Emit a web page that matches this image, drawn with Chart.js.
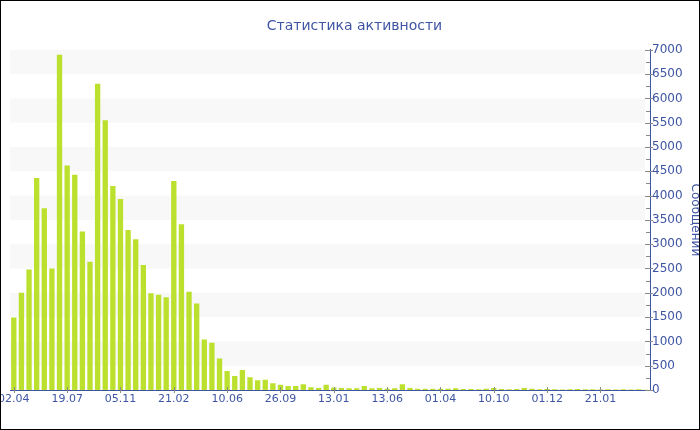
<!DOCTYPE html>
<html>
<head>
<meta charset="utf-8">
<script src="https://cdn.jsdelivr.net/npm/chart.js@4"></script>
<style>
  body { margin: 0; background: #fff; }
  #wrap { width: 700px; height: 430px; border: 1px solid #000; box-sizing: border-box; }
</style>
</head>
<body>
<div id="wrap"><canvas id="myChart" width="698" height="428"></canvas></div>
<script>
const tickLabels = ["02.04", "19.07", "05.11", "21.02", "10.06", "26.09", "13.01", "13.06", "01.04", "10.10", "01.12", "21.01"];

const messages = [
  1490, 2000, 2480, 4360, 3740, 2500, 6900, 4620, 4430, 3260,
  2640, 6300, 5550, 4200, 3930, 3290, 3100, 2570, 1990, 1960,
  1910, 4300, 3410, 2020, 1780, 1040, 970, 650, 390, 290,
  410, 260, 200, 210, 140, 110, 80, 80, 120, 55,
  40, 110, 50, 40, 35, 35, 80, 35, 40, 25,
  35, 120, 40, 25, 25, 25, 25, 25, 35, 20,
  20, 15, 25, 40, 20, 15, 20, 40, 25, 15,
  20, 15, 10, 15, 20, 15, 15, 10, 15, 10,
  15, 10, 15, 5,
];

const labelEvery = 7;
const blue = "#3e55a3";

// one category per bar, only every 7th one has a date
const labels = messages.map((v, i) => (i % labelEvery === 0 ? tickLabels[i / labelEvery] || "" : ""));

// grey bands behind bars
const bands = {
  id: "bands",
  beforeDatasetsDraw(chart) {
    const { ctx, chartArea: { left, right }, scales: { y } } = chart;
    ctx.save();
    ctx.fillStyle = "#f8f8f8";
    for (let v = 500; v < 7000; v += 1000) {
      const top = y.getPixelForValue(v + 500);
      const bottom = y.getPixelForValue(v);
      ctx.fillRect(left, top, right - left - 5, bottom - top);
    }
    ctx.restore();
  },
};

// small tick marks on both axes
const tickMarks = {
  id: "tickMarks",
  afterDraw(chart) {
    const { ctx, chartArea: { right, bottom }, scales: { x, y } } = chart;
    ctx.save();
    ctx.strokeStyle = "#8a8a8a";
    ctx.lineWidth = 1;
    ctx.beginPath();
    for (let v = 0; v <= 7000; v += 250) {
      const py = Math.round(y.getPixelForValue(v)) + 0.5;
      const major = v % 500 === 0;
      ctx.moveTo(right - (major ? 5 : 4), py);
      ctx.lineTo(right + (major ? 3 : 0), py);
    }
    for (let i = 0; i < messages.length; i += labelEvery) {
      const px = Math.round(x.getPixelForValue(i)) + 0.5;
      ctx.moveTo(px, bottom - 3);
      ctx.lineTo(px, bottom + 3);
    }
    ctx.stroke();
    ctx.restore();
  },
};

const data = {
  labels: labels,
  datasets: [
    {
      label: "Сообщений",
      data: messages,
      backgroundColor: "#bce02e",
      borderWidth: 0,
      barPercentage: 0.7,
      categoryPercentage: 1,
    },
  ],
};

const config = {
  type: "bar",
  data: data,
  options: {
    responsive: false,
    animation: false,
    layout: {
      padding: { left: 9, right: 0, top: 0, bottom: 0 },
    },
    plugins: {
      legend: { display: false },
      tooltip: { enabled: false },
      title: {
        display: true,
        text: "Статистика активности",
        color: blue,
        font: { family: "DejaVu Sans", size: 14, weight: "normal" },
        padding: { top: 17, bottom: 15 },
      },
    },
    scales: {
      x: {
        grid: { display: false, drawTicks: false },
        border: { display: true, color: blue, width: 1 },
        ticks: {
          color: blue,
          font: { family: "DejaVu Sans", size: 11 },
          autoSkip: false,
          maxRotation: 0,
          padding: 3,
        },
        afterFit(scale) {
          scale.height = 39;
          scale.paddingLeft = 0;
          scale.paddingRight = 0;
        },
      },
      y: {
        position: "right",
        min: 0,
        max: 7000,
        grid: { display: false, drawTicks: false },
        border: { display: true, color: blue, width: 1 },
        ticks: {
          stepSize: 500,
          color: blue,
          font: { family: "DejaVu Sans", size: 12 },
          padding: 2,
          callback: (value) => String(value),
        },
        title: {
          display: true,
          text: "Сообщений",
          color: blue,
          font: { family: "DejaVu Sans", size: 12 },
          padding: { top: -3, bottom: 0 },
        },
        afterFit(scale) {
          scale.width = 49;
          scale.paddingTop = 0;
          scale.paddingBottom = 0;
        },
      },
    },
  },
  plugins: [bands, tickMarks],
};

const myChart = new Chart(document.getElementById("myChart"), config);
</script>
</body>
</html>
